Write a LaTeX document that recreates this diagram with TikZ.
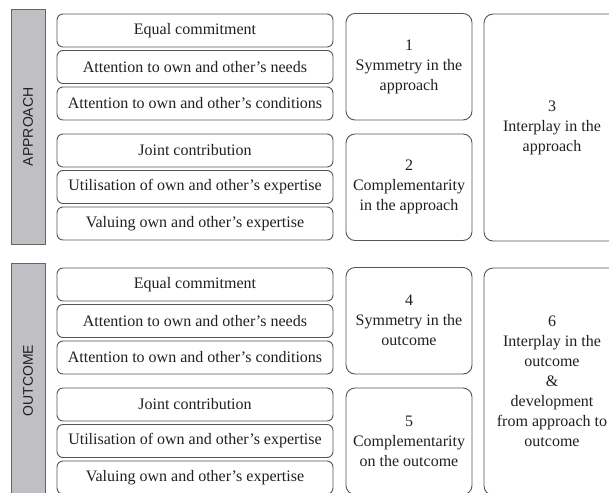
\documentclass[tikz,border=0pt]{standalone}
\usepackage{fontspec}
\setmainfont{Liberation Serif}
\newfontfamily\sidefont{Liberation Sans}
\definecolor{edge}{RGB}{85,85,85}
\definecolor{sidefill}{RGB}{192,192,196}
\definecolor{sideedge}{RGB}{100,100,100}
\definecolor{ink}{RGB}{35,31,32}
\begin{document}
\begin{tikzpicture}[x=1pt,y=-1pt,
  every node/.style={text=ink},
  itembox/.style={draw=edge, line width=0.9pt, rounded corners=6pt, fill=white,
    minimum width=276pt, minimum height=33pt, inner sep=2pt,
    font=\fontsize{16}{20}\selectfont},
  bigbox/.style={draw=edge, line width=0.9pt, rounded corners=9pt, fill=white,
    align=center, inner sep=2pt, font=\fontsize{16}{20}\selectfont},
  sidebar/.style={draw=sideedge, line width=1pt, fill=sidefill, rotate=90,
    minimum height=34pt, inner sep=0pt,
    font=\sidefont\fontsize{14}{14}\selectfont}
]
\useasboundingbox (0,0) rectangle (609,492);
\clip (0,0) rectangle (609,492);

% ---------- APPROACH ----------
\node[sidebar, minimum width=234.5pt] (sa) at (28,126.75) {APPROACH};
\node[itembox] (a1) at (195,30.5) {Equal commitment};
\node[itembox] (a2) at (195,67) {Attention to own and other’s needs};
\node[itembox] (a3) at (195,103.5) {Attention to own and other’s conditions};
\node[itembox] (a4) at (195,150.5) {Joint contribution};
\node[itembox] (a5) at (195,187) {Utilisation of own and other’s expertise};
\node[itembox] (a6) at (195,223.5) {Valuing own and other’s expertise};

\node[bigbox, minimum width=126pt, minimum height=106.5pt] (b1) at (409,66.75)
  {1\\Symmetry in the\\approach};
\node[bigbox, minimum width=126pt, minimum height=106.5pt] (b2) at (409,187.25)
  {2\\Complementarity\\in the approach};
\node[bigbox, minimum width=136pt, minimum height=227pt] (b3) at (552,127.5)
  {3\\Interplay in the\\approach};

% ---------- OUTCOME ----------
\node[sidebar, minimum width=234.5pt] (so) at (28,380.75) {OUTCOME};
\node[itembox] (o1) at (195,284.5) {Equal commitment};
\node[itembox] (o2) at (195,321) {Attention to own and other’s needs};
\node[itembox] (o3) at (195,357.5) {Attention to own and other’s conditions};
\node[itembox] (o4) at (195,404.5) {Joint contribution};
\node[itembox] (o5) at (195,441) {Utilisation of own and other’s expertise};
\node[itembox] (o6) at (195,477.5) {Valuing own and other’s expertise};

\node[bigbox, minimum width=126pt, minimum height=106.5pt] (b4) at (409,320.75)
  {4\\Symmetry in the\\outcome};
\node[bigbox, minimum width=126pt, minimum height=106.5pt] (b5) at (409,441.25)
  {5\\Complementarity\\on the outcome};
\node[bigbox, minimum width=136pt, minimum height=227pt] (b6) at (552,381.5)
  {6\\Interplay in the\\outcome\\\&\\development\\from approach to\\outcome};
\end{tikzpicture}
\end{document}
